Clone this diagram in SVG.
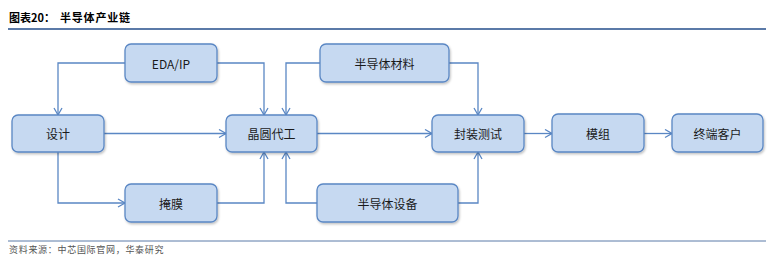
<svg xmlns="http://www.w3.org/2000/svg" width="774" height="259" viewBox="0 0 774 259">
  <defs>
    <marker id="arr" markerWidth="10" markerHeight="10" refX="8" refY="5" orient="auto" markerUnits="userSpaceOnUse">
      <path d="M1,1 L8,5 L1,9" fill="none" stroke="#5a87c4" stroke-width="1.3"/>
    </marker>
    <filter id="sh" x="-10%" y="-10%" width="130%" height="140%">
      <feDropShadow dx="1" dy="1.5" stdDeviation="1" flood-color="#000" flood-opacity="0.25"/>
    </filter>
  </defs>
  <style>
    .node rect { fill: #c6d9f1; stroke: #5a87c4; stroke-width: 1.3; filter: url(#sh); }
    .node text { font-family: "Noto Sans CJK SC", "Liberation Sans", sans-serif; font-size: 12px; fill: #1a1a1a; text-anchor: middle; dominant-baseline: central; }
    .conn path { fill: none; stroke: #5a87c4; stroke-width: 1.3; marker-end: url(#arr); }
    .title { font-family: "Noto Sans CJK SC", sans-serif; font-size: 11px; font-weight: bold; fill: #000; }
    .src { font-family: "Noto Sans CJK SC", sans-serif; font-size: 9px; fill: #555; letter-spacing: 0.7px; }
  </style>
  <rect width="774" height="259" fill="#fff"/>
  <text class="title" x="9" y="22">图表20：</text>
  <text class="title" x="60" y="22" letter-spacing="0.8">半导体产业链</text>
  <line x1="8" y1="29" x2="766" y2="29" stroke="#5b7aa8" stroke-width="2"/>
  <line x1="8" y1="241" x2="766" y2="241" stroke="#5b7aa8" stroke-width="1"/>
  <text class="src" x="9" y="253">资料来源：中芯国际官网，华泰研究</text>

  <g class="conn">
    <path d="M125,63 H58 V115"/>
    <path d="M217,63 H264 V115"/>
    <path d="M104,133.5 H226"/>
    <path d="M58,152 V203 H125"/>
    <path d="M217,203 H264 V152"/>
    <path d="M320,63 H286 V115"/>
    <path d="M449,63 H478 V115"/>
    <path d="M317,203 H286 V152"/>
    <path d="M458,203 H478 V152"/>
    <path d="M317,133.5 H432"/>
    <path d="M524,133.5 H552"/>
    <path d="M644,133.5 H672"/>
  </g>

  <g id="eda" class="node"><rect x="125" y="44" width="92" height="38" rx="6"/><text x="171" y="63">EDA/IP</text></g>
  <g id="design" class="node"><rect x="12" y="115" width="92" height="37" rx="6"/><text x="58" y="133.5">设计</text></g>
  <g id="mask" class="node"><rect x="125" y="184" width="92" height="38" rx="6"/><text x="171" y="203">掩膜</text></g>
  <g id="foundry" class="node"><rect x="226" y="115" width="91" height="37" rx="6"/><text x="271.5" y="133.5">晶圆代工</text></g>
  <g id="material" class="node"><rect x="320" y="44" width="129" height="38" rx="6"/><text x="384.5" y="63">半导体材料</text></g>
  <g id="equipment" class="node"><rect x="317" y="184" width="141" height="38" rx="6"/><text x="387.5" y="203">半导体设备</text></g>
  <g id="packaging" class="node"><rect x="432" y="115" width="92" height="37" rx="6"/><text x="478" y="133.5">封装测试</text></g>
  <g id="module" class="node"><rect x="552" y="114" width="92" height="38" rx="6"/><text x="598" y="133">模组</text></g>
  <g id="customer" class="node"><rect x="672" y="114" width="91" height="38" rx="6"/><text x="717.5" y="133">终端客户</text></g>
</svg>
